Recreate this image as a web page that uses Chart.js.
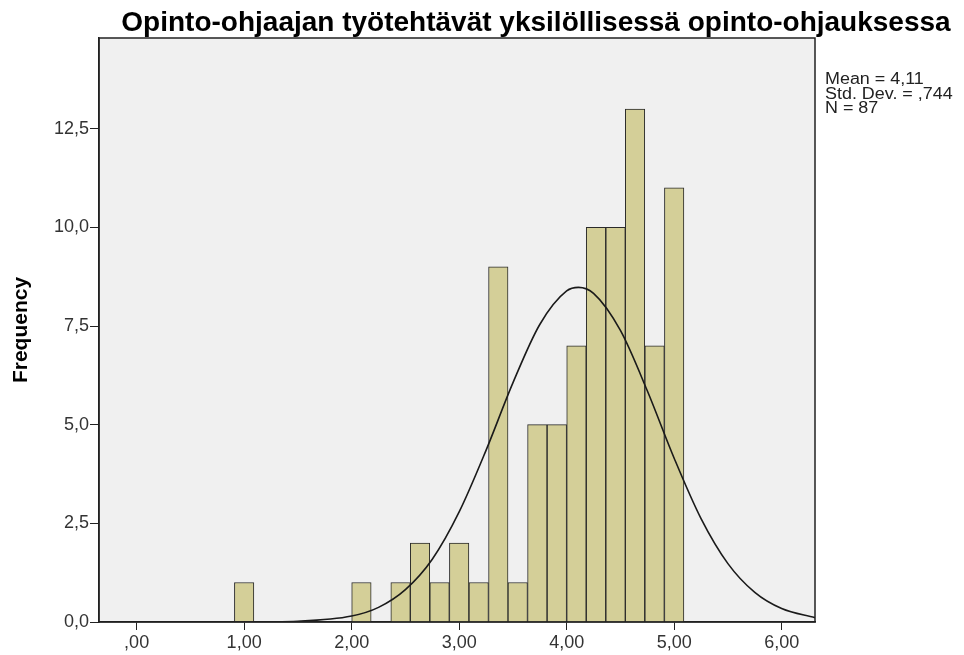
<!DOCTYPE html>
<html>
<head>
<meta charset="utf-8">
<script src="https://cdn.jsdelivr.net/npm/chart.js@4.4.1/dist/chart.umd.min.js"></script>
<style>
  html, body { margin: 0; padding: 0; background: #fff; }
  #wrap { width: 964px; height: 655px; }
</style>
</head>
<body>
<div id="wrap"><canvas id="histo"></canvas></div>
<script>
// histogram bins (centres) and counts
const binCenters = [1.000, 2.091, 2.455, 2.636, 2.818, 3.000, 3.182, 3.364, 3.545,
                    3.727, 3.909, 4.091, 4.273, 4.455, 4.636, 4.818, 5.000];
const counts = [1, 1, 1, 2, 1, 2, 1, 9, 1, 5, 5, 7, 10, 10, 13, 7, 11];

// normal curve
const curveX = [-0.35, 0.5, 1.0, 1.5, 2.0, 2.25, 2.5, 2.75, 3.0, 3.25, 3.5, 3.75,
                4.0, 4.11, 4.25, 4.5, 4.75, 5.0, 5.25, 5.5, 5.75, 6.0, 6.31];
const curveY = [0, 0, 0, 0.02, 0.15, 0.37, 0.82, 1.59, 2.79, 4.35, 6.06, 7.54,
                8.39, 8.48, 8.33, 7.39, 5.86, 4.15, 2.62, 1.48, 0.75, 0.34, 0.11];

const xTicks = [0, 1, 2, 3, 4, 5, 6];
const yTicks = [0, 2.5, 5, 7.5, 10, 12.5];
const stats = ['Mean = 4,11', 'Std. Dev. = ,744', 'N = 87'];
const titleText = 'Opinto-ohjaajan työtehtävät yksilöllisessä opinto-ohjauksessa';

const fmt = (v, d) => {
  let s = v.toFixed(d).replace('.', ',');
  if (s.startsWith('0,') && d === 2) s = s.slice(1);
  return s;
};

const frame = {
  id: 'frame',
  beforeDraw(chart) {
    const { ctx, chartArea: a } = chart;
    ctx.save();
    ctx.fillStyle = '#fff';
    ctx.fillRect(0, 0, chart.width, chart.height);
    ctx.fillStyle = '#f0f0f0';
    ctx.fillRect(a.left, a.top, a.right - a.left, a.bottom - a.top);
    ctx.restore();
  },
  afterDraw(chart) {
    const { ctx, chartArea: a } = chart;
    ctx.save();
    ctx.strokeStyle = '#222';
    ctx.lineWidth = 1.5;
    ctx.strokeRect(a.left, a.top, a.right - a.left, a.bottom - a.top);

    // title
    ctx.fillStyle = '#000';
    ctx.font = 'bold 28px "Liberation Sans", Arial, sans-serif';
    ctx.textBaseline = 'alphabetic';
    ctx.textAlign = 'center';
    ctx.fillText(titleText, 536, 31);

    // stats text at the right
    ctx.font = '16px "Liberation Sans", Arial, sans-serif';
    ctx.textAlign = 'left';
    ctx.textBaseline = 'middle';
    ctx.fillStyle = '#222';
    stats.forEach((t, i) => {
      ctx.save();
      ctx.translate(825, 80 + i * 14.5);
      ctx.scale(1.12, 1);
      ctx.fillText(t, 0, 0);
      ctx.restore();
    });
    ctx.restore();
  }
};

new Chart(document.getElementById('histo'), {
  type: 'bar',
  data: {
    datasets: [
      {
        type: 'line',
        data: curveX.map((x, i) => ({ x, y: curveY[i] })),
        borderColor: '#1a1a1a',
        borderWidth: 1.6,
        pointRadius: 0,
        cubicInterpolationMode: 'monotone',
        order: 0
      },
      {
        data: binCenters.map((x, i) => ({ x, y: counts[i] })),
        backgroundColor: '#d4cf98',
        borderColor: '#2a2a2a',
        borderWidth: 1,
        barPercentage: 1,
        categoryPercentage: 1,
        grouped: false,
        order: 1
      }
    ]
  },
  options: {
    responsive: true,
    maintainAspectRatio: false,
    animation: false,
    layout: { padding: { left: 0, right: 149, top: 38, bottom: 0 } },
    plugins: {
      legend: { display: false },
      tooltip: { enabled: false }
    },
    scales: {
      x: {
        type: 'linear',
        offset: false,
        min: -0.35,
        max: 6.31,
        afterBuildTicks: s => { s.ticks = xTicks.map(v => ({ value: v })); },
        afterFit: s => { s.height = 33; },
        border: { display: true, color: '#222', width: 1.5 },
        grid: { offset: false, drawOnChartArea: false, drawTicks: true, tickLength: 8, color: '#222' },
        ticks: {
          color: '#333',
          padding: 2,
          maxRotation: 0,
          font: { family: '"Liberation Sans", Arial, sans-serif', size: 18 },
          callback: v => fmt(v, 2)
        }
      },
      y: {
        min: 0,
        max: 14.8,
        afterBuildTicks: s => { s.ticks = yTicks.map(v => ({ value: v })); },
        afterFit: s => { s.width = 99; },
        border: { display: true, color: '#222', width: 1.5 },
        grid: { drawOnChartArea: false, drawTicks: true, tickLength: 9, color: '#222' },
        title: {
          display: true,
          text: 'Frequency',
          color: '#000',
          padding: { top: 9, bottom: 0 },
          font: { family: '"Liberation Sans", Arial, sans-serif', size: 21, weight: 'bold' }
        },
        ticks: {
          color: '#333',
          padding: 1,
          font: { family: '"Liberation Sans", Arial, sans-serif', size: 18 },
          callback: v => fmt(v, 1)
        }
      }
    }
  },
  plugins: [frame]
});
</script>
</body>
</html>
